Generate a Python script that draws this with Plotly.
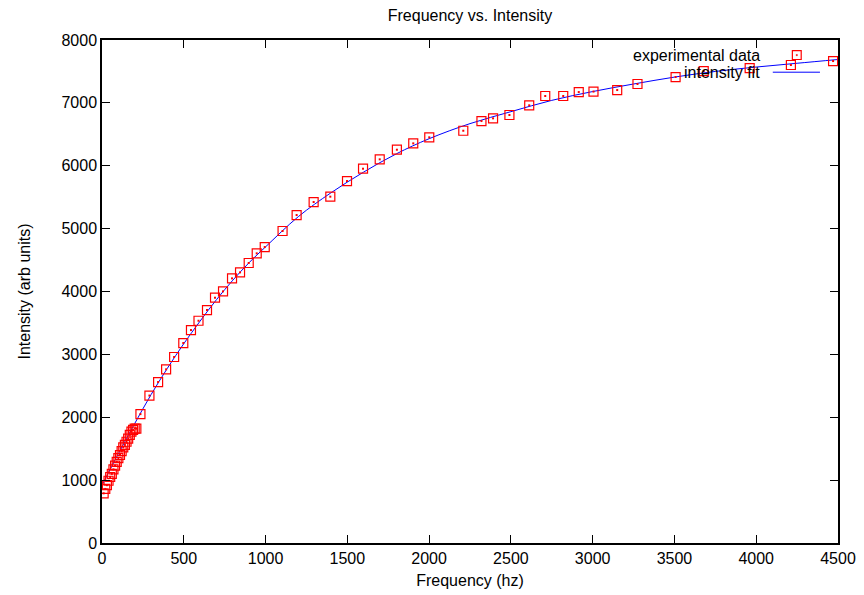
import plotly.graph_objects as go

# ---- data ----
freq_hz = [10, 20, 30, 40, 50, 60, 70, 80, 90, 100, 110, 120, 130, 140, 150,
           160, 170, 180, 190, 200, 210,
           235, 290, 343, 392, 441, 497, 544, 590, 642, 691, 740, 795, 844,
           897, 946, 995, 1104, 1190, 1294, 1396, 1498, 1596, 1698, 1803,
           1903, 2001, 2209, 2320, 2391, 2491, 2612, 2710, 2820, 2915, 3005,
           3150, 3274, 3507, 3679, 3960, 4212, 4470]
intensity = [790, 860, 920, 990, 1050, 1100, 1170, 1230, 1290, 1350, 1400,
             1460, 1520, 1560, 1610, 1660, 1720, 1770, 1800, 1820, 1820,
             2050, 2345, 2560, 2762, 2958, 3180, 3387, 3535, 3705, 3901,
             4002, 4209, 4304, 4453, 4607, 4707, 4962, 5216, 5423, 5508,
             5757, 5953, 6102, 6255, 6356, 6452, 6557, 6711, 6754, 6807,
             6961, 7109, 7109, 7172, 7180, 7204, 7300, 7411, 7506, 7554,
             7602, 7665]

fit_freq = [0, 100, 200, 300, 400, 500, 600, 700, 800, 900, 1000, 1200,
            1400, 1600, 1800, 2000, 2250, 2500, 2750, 3000, 3250, 3500,
            3750, 4000, 4250, 4500]
fit_intensity = [920, 1420, 1900, 2360, 2780, 3170, 3530, 3870, 4180, 4460,
                 4710, 5190, 5570, 5900, 6190, 6430, 6670, 6860, 7040, 7180,
                 7300, 7410, 7500, 7570, 7630, 7690]

x_ticks = [0, 500, 1000, 1500, 2000, 2500, 3000, 3500, 4000, 4500]
y_ticks = [0, 1000, 2000, 3000, 4000, 5000, 6000, 7000, 8000]

title_text = "Frequency vs. Intensity"
x_title = "Frequency (hz)"
y_title = "Intensity (arb units)"
legend_labels = ["experimental data", "intensity fit"]

FONT = "Liberation Sans, Arial, sans-serif"
FS = 16

# page has an 8px body margin, so the figure is sized to fit the window
W, H = 856, 587

fig = go.Figure()

fig.add_trace(go.Scatter(
    x=fit_freq, y=fit_intensity, mode="lines", line_shape="spline",
    line=dict(color="#0000ff", width=1), showlegend=False, hoverinfo="skip"))

fig.add_trace(go.Scatter(
    x=freq_hz, y=intensity, mode="markers",
    marker=dict(symbol="square-open", size=9, color="#ff0000",
                line=dict(width=1.2, color="#ff0000")),
    showlegend=False))

fig.add_trace(go.Scatter(
    x=freq_hz, y=intensity, mode="markers",
    marker=dict(symbol="square", size=2, color="#ff0000"),
    showlegend=False, hoverinfo="skip"))

# ---- gnuplot-style legend (text, then sample on the right) ----
fig.add_annotation(xref="paper", yref="paper", x=0.8967, y=0.970,
                   xanchor="right", yanchor="middle", showarrow=False,
                   text=legend_labels[0], font=dict(family=FONT, size=FS, color="black"))
fig.add_annotation(xref="paper", yref="paper", x=0.8967, y=0.936,
                   xanchor="right", yanchor="middle", showarrow=False,
                   text=legend_labels[1], font=dict(family=FONT, size=FS, color="black"))
fig.add_shape(type="rect", xref="paper", yref="paper",
              x0=0.944 - 0.006, x1=0.944 + 0.006,
              y0=0.970 - 0.0088, y1=0.970 + 0.0088,
              line=dict(color="#ff0000", width=1.2))
fig.add_shape(type="rect", xref="paper", yref="paper",
              x0=0.944 - 0.0008, x1=0.944 + 0.0008,
              y0=0.970 - 0.0012, y1=0.970 + 0.0012,
              line=dict(color="#ff0000", width=0.5), fillcolor="#ff0000")
fig.add_shape(type="line", xref="paper", yref="paper",
              x0=0.9114, x1=0.9755, y0=0.936, y1=0.936,
              line=dict(color="#0000ff", width=1))

axis_common = dict(
    showgrid=False, zeroline=False, showline=True, linecolor="black",
    linewidth=1.5, mirror="ticks", ticks="inside", ticklen=8, tickwidth=1,
    tickcolor="black", tickfont=dict(family=FONT, size=FS, color="black"))

fig.update_layout(
    width=W, height=H,
    margin=dict(l=94, r=26, t=32, b=52, autoexpand=False),
    paper_bgcolor="white", plot_bgcolor="white",
    font=dict(family=FONT, size=FS, color="black"),
    title=dict(text=title_text, x=0.5, xref="paper", y=1 - 7 / H,
               yref="container", xanchor="center", yanchor="middle",
               font=dict(family=FONT, size=FS, color="black")),
    xaxis=dict(range=[0, 4500], tickvals=x_ticks,
               ticktext=[str(v) for v in x_ticks],
               title=dict(text=x_title, standoff=9,
                          font=dict(family=FONT, size=FS, color="black")),
               automargin=False, **axis_common),
    yaxis=dict(range=[0, 8000], tickvals=y_ticks,
               ticktext=[str(v) for v in y_ticks],
               title=dict(text=y_title, standoff=27,
                          font=dict(family=FONT, size=FS, color="black")),
               automargin=False, **axis_common),
)

fig.write_html("out.html")
